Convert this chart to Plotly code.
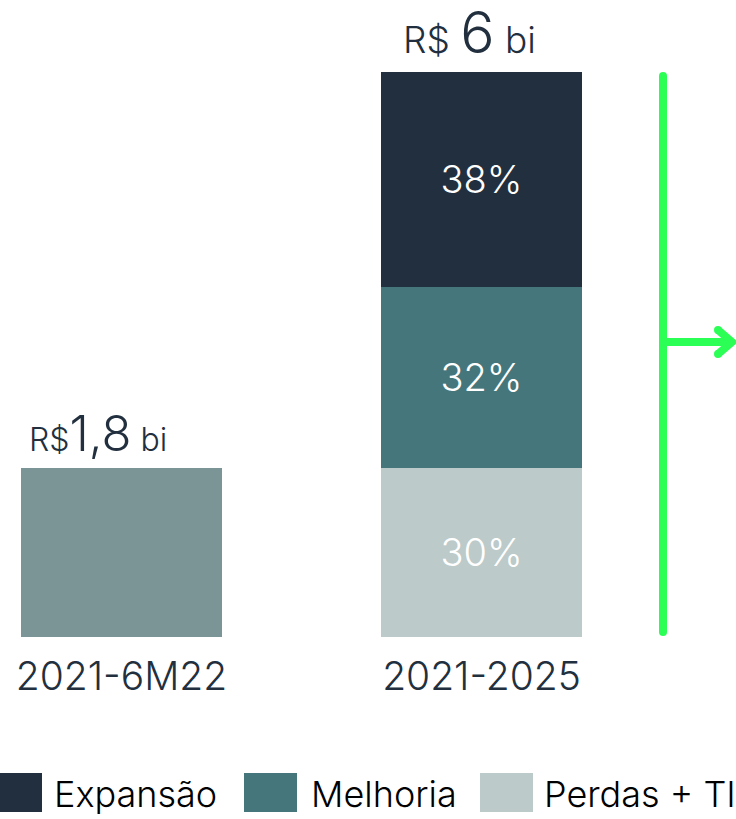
import plotly.graph_objects as go

# ---- data ----
categories = ["2021-6M22", "2021-2025"]
realizado = [1.8, None]          # R$ bi
perdas_ti = [None, 1.8]          # 30%
melhoria = [None, 1.92]          # 32%
expansao = [None, 2.28]          # 38%
pct_perdas = ["", "30%"]
pct_melhoria = ["", "32%"]
pct_expansao = ["", "38%"]
totals = ["1,8", "6"]
legend_names = ["Expansão", "Melhoria", "Perdas + TI"]

# ---- style ----
W, H = 736, 819
MB = 182
PH = H - MB
C_DARK = "#222f3e"
C_TEAL = "#45767c"
C_LIGHT = "#bccaca"
C_FIRST = "#7b9597"
C_GREEN = "#2bff55"
FONT = "Inter"

def px2x(px):
    return px / W

def px2y(py):
    return (PH - py) / PH

fig = go.Figure()
fig.add_trace(go.Bar(x=categories, y=realizado, marker_color=C_FIRST,
                     marker_line_width=0, hoverinfo="skip"))
for vals, txt, col in [(perdas_ti, pct_perdas, C_LIGHT),
                       (melhoria, pct_melhoria, C_TEAL),
                       (expansao, pct_expansao, C_DARK)]:
    fig.add_trace(go.Bar(x=categories, y=vals, marker_color=col, marker_line_width=0,
                         text=txt, textposition="inside", insidetextanchor="middle",
                         textangle=0,
                         textfont=dict(family=FONT, size=38, color="white", weight=300),
                         hoverinfo="skip"))

# total labels above bars
tot_vals = [realizado[0], perdas_ti[1] + melhoria[1] + expansao[1]]
xshifts = [27 - 121.5, 401 - 481.5]
small = [32, 37]
big = [49, 57]
sp = ["", " "]
for i, cat in enumerate(categories):
    fig.add_annotation(x=cat, y=tot_vals[i], xref="x", yref="y",
                       xanchor="left", yanchor="bottom", xshift=xshifts[i], yshift=3,
                       showarrow=False,
                       text=(f"<span style='font-size:{small[i]}px'>R${sp[i]}</span>"
                             f"<span style='font-size:{big[i]}px'>{totals[i]}</span>"
                             f"<span style='font-size:{small[i]}px'> bi</span>"),
                       font=dict(family=FONT, size=small[i], color=C_DARK, weight=300))

# green bracket arrow
shapes = []
lw = 8
xv = 663
shapes.append(dict(type="line", xref="paper", yref="paper",
                   x0=px2x(xv), x1=px2x(xv), y0=px2y(76), y1=px2y(632),
                   line=dict(color=C_GREEN, width=lw)))
for yy in (76, 632):
    shapes.append(dict(type="circle", xref="paper", yref="paper",
                       x0=px2x(xv - lw / 2), x1=px2x(xv + lw / 2),
                       y0=px2y(yy - lw / 2), y1=px2y(yy + lw / 2),
                       fillcolor=C_GREEN, line=dict(width=0)))
shapes.append(dict(type="line", xref="paper", yref="paper",
                   x0=px2x(xv), x1=px2x(731), y0=px2y(342), y1=px2y(342),
                   line=dict(color=C_GREEN, width=lw)))
shapes.append(dict(type="path", xref="paper", yref="paper",
                   path=(f"M {px2x(718)},{px2y(330)} L {px2x(732)},{px2y(342)} "
                         f"L {px2x(718)},{px2y(354)}"),
                   line=dict(color=C_GREEN, width=lw)))
for (cx, cy) in [(718, 330), (718, 354)]:
    shapes.append(dict(type="circle", xref="paper", yref="paper",
                       x0=px2x(cx - lw / 2), x1=px2x(cx + lw / 2),
                       y0=px2y(cy - lw / 2), y1=px2y(cy + lw / 2),
                       fillcolor=C_GREEN, line=dict(width=0)))

# manual legend
leg_cols = [C_DARK, C_TEAL, C_LIGHT]
sq_x = [-11, 244, 480]
txt_x = [52, 309, 542]
for i, name in enumerate(legend_names):
    shapes.append(dict(type="rect", xref="paper", yref="paper",
                       x0=px2x(sq_x[i]), x1=px2x(sq_x[i] + 53),
                       y0=px2y(812), y1=px2y(773),
                       fillcolor=leg_cols[i], line=dict(width=0)))
    fig.add_annotation(x=px2x(txt_x[i]), y=px2y(794), xref="paper", yref="paper",
                       xanchor="left", yanchor="middle", showarrow=False,
                       text=name, font=dict(family=FONT, size=36, color="#000000", weight=300))

fig.update_layout(
    width=W, height=H, barmode="stack", bargap=1 - 201 / 360,
    showlegend=False, shapes=shapes,
    margin=dict(l=0, r=0, t=0, b=MB),
    paper_bgcolor="white", plot_bgcolor="white",
    xaxis=dict(range=[-121.5 / 360, (W - 121.5) / 360], showgrid=False, zeroline=False,
               showline=False, ticks="",
               tickfont=dict(family=FONT, size=39, color=C_DARK, weight=300),
               ticklabelstandoff=13),
    yaxis=dict(range=[0, PH / (565 / 6)], visible=False),
)

fig.write_html("out.html", config={"displayModeBar": False},
               post_script="document.body.style.margin='0';")
